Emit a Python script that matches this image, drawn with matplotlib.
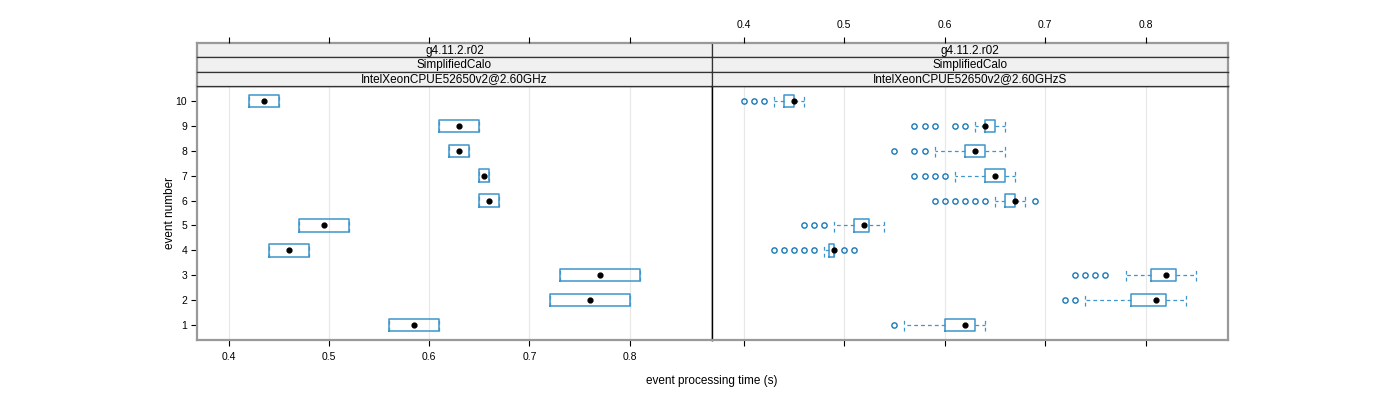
import matplotlib

matplotlib.use("Agg")
from matplotlib import pyplot as plt

plt.rcParams["font.family"] = ["Liberation Sans", "DejaVu Sans"]

events = [1, 2, 3, 4, 5, 6, 7, 8, 9, 10]
x_ticks = [0.4, 0.5, 0.6, 0.7, 0.8]
strip_labels_left = ["g4.11.2.r02", "SimplifiedCalo", "IntelXeonCPUE52650v2@2.60GHz"]
strip_labels_right = ["g4.11.2.r02", "SimplifiedCalo", "IntelXeonCPUE52650v2@2.60GHzS"]

# left panel: a handful of runs, whiskers collapse onto the box
ghz_q1 = [0.560, 0.720, 0.730, 0.440, 0.470, 0.650, 0.650, 0.620, 0.610, 0.420]
ghz_med = [0.585, 0.760, 0.770, 0.460, 0.495, 0.660, 0.655, 0.630, 0.630, 0.435]
ghz_q3 = [0.610, 0.800, 0.810, 0.480, 0.520, 0.670, 0.660, 0.640, 0.650, 0.450]

# right panel: full box-and-whisker summaries
ghzs_wlo = [0.560, 0.740, 0.780, 0.480, 0.490, 0.650, 0.610, 0.590, 0.630, 0.430]
ghzs_q1 = [0.600, 0.785, 0.805, 0.485, 0.510, 0.660, 0.640, 0.620, 0.640, 0.440]
ghzs_med = [0.620, 0.810, 0.820, 0.490, 0.520, 0.670, 0.650, 0.630, 0.640, 0.450]
ghzs_q3 = [0.630, 0.820, 0.830, 0.490, 0.525, 0.670, 0.660, 0.640, 0.650, 0.450]
ghzs_whi = [0.640, 0.840, 0.850, 0.490, 0.540, 0.680, 0.670, 0.660, 0.660, 0.460]
ghzs_out = [
    [0.550],
    [0.720, 0.730],
    [0.730, 0.740, 0.750, 0.760],
    [0.430, 0.440, 0.450, 0.460, 0.470, 0.500, 0.510],
    [0.460, 0.470, 0.480],
    [0.590, 0.600, 0.610, 0.620, 0.630, 0.640, 0.690],
    [0.570, 0.580, 0.590, 0.600],
    [0.550, 0.570, 0.580],
    [0.570, 0.580, 0.590, 0.610, 0.620],
    [0.400, 0.410, 0.420],
]

box_color = "#3d95cc"
flier_color = "#1a78b6"
border_gray = "#999999"
grid_color = "#e8e8e8"
strip_fill = "#f0f0f0"
xlim = (0.3685, 0.882)
ylim = (0.4, 10.6)

W, H = 1400, 400
fig = plt.figure(figsize=(14, 4), dpi=100)
fig.patch.set_facecolor("white")


def rect(x0, y0, x1, y1):
    # pixel box (top-left origin) -> figure fraction
    return [x0 / W, 1 - y1 / H, (x1 - x0) / W, (y1 - y0) / H]


panel_x = [(197, 712), (712, 1228)]
panel_top, panel_bot = 86, 340
strip_edges = [43, 57.3, 71.6, 86]


def draw_panel(ax, q1, med, q3, wlo, whi, outs):
    stats = []
    for i in range(len(events)):
        stats.append(
            {
                "med": med[i],
                "q1": q1[i],
                "q3": q3[i],
                "whislo": wlo[i],
                "whishi": whi[i],
                "fliers": outs[i],
            }
        )
    ax.bxp(
        stats,
        positions=events,
        widths=0.5,
        capwidths=0.5,
        orientation="horizontal",
        manage_ticks=False,
        boxprops=dict(color=box_color, linewidth=1.1),
        whiskerprops=dict(color=box_color, linewidth=0.9, linestyle=(0, (3, 2.5))),
        capprops=dict(color=box_color, linewidth=0.9, linestyle=(0, (3, 2.5))),
        medianprops=dict(linewidth=0),
        flierprops=dict(
            marker="o",
            markersize=3.8,
            markerfacecolor="none",
            markeredgecolor=flier_color,
            markeredgewidth=1.0,
            linestyle="none",
        ),
    )
    ax.scatter(med, events, s=12, color="black", zorder=5)
    ax.set_xlim(*xlim)
    ax.set_ylim(*ylim)
    for xv in x_ticks:
        ax.axvline(xv, color=grid_color, linewidth=0.9, zorder=0)


panels = []
for col, (x0, x1) in enumerate(panel_x):
    ax = fig.add_axes(rect(x0, panel_top, x1, panel_bot))
    panels.append(ax)
    if col == 0:
        draw_panel(ax, ghz_q1, ghz_med, ghz_q3, ghz_q1, ghz_q3, [[] for _ in events])
    else:
        draw_panel(ax, ghzs_q1, ghzs_med, ghzs_q3, ghzs_wlo, ghzs_whi, ghzs_out)

    ax.set_xticks(x_ticks)
    ax.tick_params(axis="x", direction="out", length=4, width=0.8, labelsize=7.5, pad=5)
    if col == 0:
        ax.set_xticklabels([f"{v:.1f}" for v in x_ticks])
        ax.set_yticks(events)
        ax.set_yticklabels([str(e) for e in events])
        ax.tick_params(axis="y", direction="out", length=4, width=0.8, labelsize=7.5, pad=3)
    else:
        ax.set_xticklabels([])
        ax.set_yticks([])

    for side in ["top", "bottom", "left", "right"]:
        ax.spines[side].set_linewidth(1.0)
        ax.spines[side].set_color("black")
    ax.spines["bottom"].set_color(border_gray)
    ax.spines["bottom"].set_linewidth(1.6)
    if col == 0:
        ax.spines["left"].set_color(border_gray)
        ax.spines["left"].set_linewidth(1.6)
    else:
        ax.spines["right"].set_color(border_gray)
        ax.spines["right"].set_linewidth(1.6)

    labels = strip_labels_left if col == 0 else strip_labels_right
    for k in range(3):
        sax = fig.add_axes(rect(x0, strip_edges[k], x1, strip_edges[k + 1]))
        sax.set_facecolor(strip_fill)
        sax.set_xticks([])
        sax.set_yticks([])
        for side in sax.spines.values():
            side.set_color("#333333")
            side.set_linewidth(0.9)
        if k == 0:
            sax.spines["top"].set_color(border_gray)
            sax.spines["top"].set_linewidth(1.6)
        if col == 0:
            sax.spines["left"].set_color(border_gray)
            sax.spines["left"].set_linewidth(1.6)
        else:
            sax.spines["right"].set_color(border_gray)
            sax.spines["right"].set_linewidth(1.6)
        sax.text(0.5, 0.45, labels[k], transform=sax.transAxes,
                 ha="center", va="center", fontsize=8.5, color="black")

    # top axis above the strips
    tax = fig.add_axes(rect(x0, strip_edges[0], x1, strip_edges[0] + 1), frameon=False)
    tax.patch.set_visible(False)
    tax.set_xlim(*xlim)
    tax.set_yticks([])
    tax.xaxis.tick_top()
    tax.set_xticks(x_ticks)
    tax.tick_params(axis="x", direction="out", length=4, width=0.8, labelsize=7.5, pad=5)
    if col == 0:
        tax.set_xticklabels([])
    else:
        tax.set_xticklabels([f"{v:.1f}" for v in x_ticks])

fig.text(712 / W, 1 - 381 / H, "event processing time (s)", ha="center", va="center", fontsize=8.5)
fig.text(170 / W, 1 - 213 / H, "event number", ha="center", va="center", rotation=90, fontsize=8.5)

fig.savefig("out.png", dpi=100)
